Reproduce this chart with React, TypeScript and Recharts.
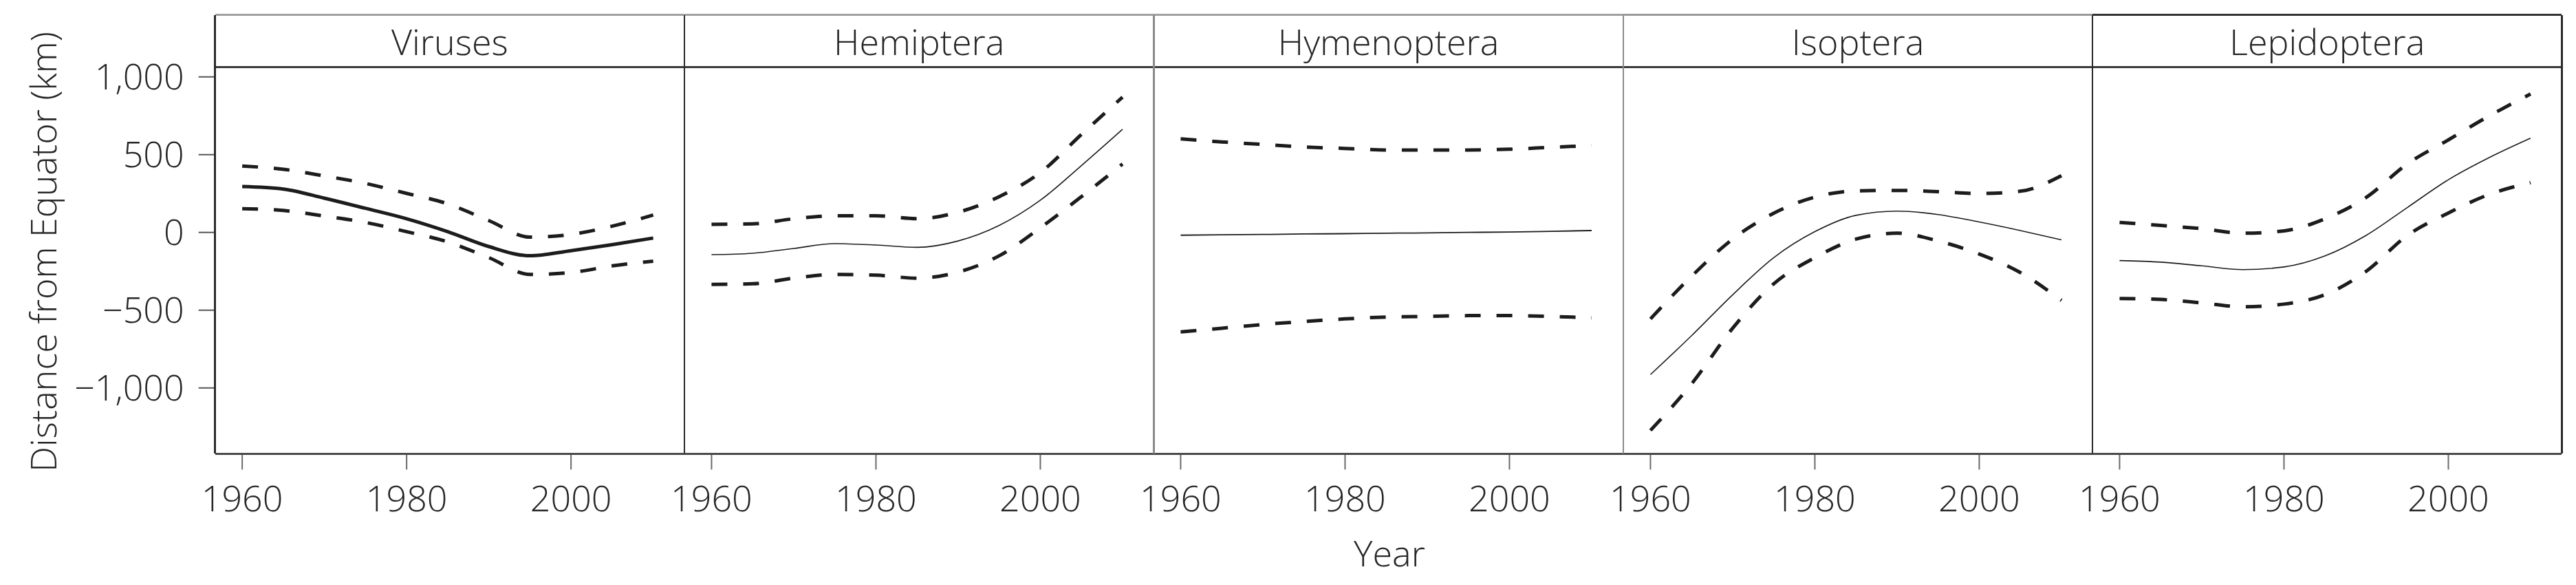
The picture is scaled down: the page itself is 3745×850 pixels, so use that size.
import { Line, LineChart, XAxis, YAxis } from 'recharts';

// Range-shift curves (fit + 95% band), one facet per taxon.
const YEARS = [1960, 1965, 1970, 1975, 1980, 1985, 1990, 1995, 2000, 2005, 2010];
const PANEL_NAMES = ['Viruses', 'Hemiptera', 'Hymenoptera', 'Isoptera', 'Lepidoptera'];

const VIRUSES_FIT = [295, 279, 220, 155, 88, 5, -91, -150, -117, -79, -36];
const VIRUSES_UPPER = [427, 406, 363, 315, 251, 184, 76, -30, -13, 40, 112];
const VIRUSES_LOWER = [153, 141, 105, 64, 5, -61, -162, -270, -258, -215, -185];

const HEMIPTERA_FIT = [-143, -134, -103, -72, -81, -96, -55, 45, 207, 430, 663];
const HEMIPTERA_UPPER = [52, 55, 88, 107, 107, 88, 130, 230, 385, 630, 870];
const HEMIPTERA_LOWER = [-334, -330, -294, -270, -275, -294, -255, -150, 30, 230, 440];

const HYMENOPTERA_FIT = [-18, -15, -13, -10, -8, -5, -3, 0, 3, 7, 12];
const HYMENOPTERA_UPPER = [602, 582, 566, 549, 540, 530, 530, 530, 535, 547, 559];
const HYMENOPTERA_LOWER = [-640, -616, -592, -573, -556, -544, -540, -535, -535, -540, -549];

const ISOPTERA_FIT = [-914, -664, -401, -162, 5, 110, 137, 115, 67, 12, -48];
const ISOPTERA_UPPER = [-556, -282, -43, 124, 227, 267, 270, 262, 250, 265, 365];
const ISOPTERA_LOWER = [-1273, -974, -616, -330, -162, -43, -5, -55, -139, -258, -437];

const LEPIDOPTERA_FIT = [-181, -191, -215, -239, -222, -151, -19, 160, 339, 482, 606];
const LEPIDOPTERA_UPPER = [64, 45, 24, -5, 10, 88, 225, 440, 595, 750, 890];
const LEPIDOPTERA_LOWER = [-425, -431, -453, -478, -461, -400, -250, -20, 125, 245, 320];

const X_TICKS = [1960, 1980, 2000];
const Y_TICKS = [-1000, -500, 0, 500, 1000];
const Y_TITLE = 'Distance from Equator (km)';
const X_TITLE = 'Year';

const SERIES = [
  [VIRUSES_FIT, VIRUSES_UPPER, VIRUSES_LOWER],
  [HEMIPTERA_FIT, HEMIPTERA_UPPER, HEMIPTERA_LOWER],
  [HYMENOPTERA_FIT, HYMENOPTERA_UPPER, HYMENOPTERA_LOWER],
  [ISOPTERA_FIT, ISOPTERA_UPPER, ISOPTERA_LOWER],
  [LEPIDOPTERA_FIT, LEPIDOPTERA_UPPER, LEPIDOPTERA_LOWER],
];

// layout (px, page coordinates)
const PLOT_LEFT = 312.7;
const PANEL_W = 682.36;
const FRAME_TOP = 21.7;
const STRIP_BOTTOM = 97.7;
const PLOT_BOTTOM = 659.3;
const AXIS_H = 120;
const PAD = 90; // room around each facet so edge tick labels are not clipped
const X_DOMAIN: [number, number] = [1956.7, 2013.8];
const Y_DOMAIN: [number, number] = [-1423, 1062];

const FONT = '"Open Sans", sans-serif';
const TEXT = '#262626';
const INK = '#1c1c1c';
const FIT_WIDTH = [5, 1.6, 1.8, 1.6, 1.6];
const TOP_COLORS = ['#a0a0a0', '#a0a0a0', '#a0a0a0', '#9a9a9a', '#333'];
const EDGE_COLORS = ['#2a2a2a', '#2a2a2a', '#8a8a8a', '#8a8a8a', '#2a2a2a', '#2a2a2a'];

const fmtY = (v: number) => (v < 0 ? '\u2212' : '') + Math.abs(v).toLocaleString('en-US');

// rotated y title, drawn in the first facet's svg (whose origin is the page origin)
const renderYTitle = () => (
  <text
    x={82}
    y={366}
    transform="rotate(-90 82 366)"
    textAnchor="middle"
    fill={TEXT}
    fontSize={52}
    fontFamily={FONT}
    fontWeight={300}
  >
    {Y_TITLE}
  </text>
);

function Panel({ idx }: { idx: number }) {
  const [fit, upper, lower] = SERIES[idx];
  const data = YEARS.map((year, i) => ({ year, fit: fit[i], upper: upper[i], lower: lower[i] }));
  const first = idx === 0;
  const leftRoom = first ? PLOT_LEFT : PAD;
  const left = PLOT_LEFT + idx * PANEL_W - leftRoom;
  const tickStyle = { fill: TEXT, fontSize: 52, fontFamily: FONT, fontWeight: 300 };

  return (
    <div style={{ position: 'absolute', left, top: 0 }}>
      <LineChart
        width={leftRoom + PANEL_W + PAD}
        height={PLOT_BOTTOM + AXIS_H}
        data={data}
        margin={{ top: STRIP_BOTTOM, right: PAD, bottom: 0, left: first ? 0 : PAD }}
      >
        <XAxis
          dataKey="year"
          type="number"
          domain={X_DOMAIN}
          ticks={X_TICKS}
          interval={0}
          allowDataOverflow
          height={AXIS_H}
          axisLine={false}
          tickSize={23}
          tickMargin={24}
          tickLine={{ stroke: '#6a6a6a', strokeWidth: 2 }}
          tick={tickStyle}
        />
        <YAxis
          type="number"
          domain={Y_DOMAIN}
          ticks={Y_TICKS}
          interval={0}
          allowDataOverflow
          hide={!first}
          width={first ? PLOT_LEFT : 0}
          axisLine={false}
          tickSize={24}
          tickMargin={21}
          tickLine={{ stroke: '#555', strokeWidth: 2 }}
          tick={tickStyle}
          tickFormatter={fmtY}
          label={first ? renderYTitle : undefined}
        />
        <Line dataKey="upper" type="monotone" stroke={INK} strokeWidth={5} strokeDasharray="23 23" dot={false} isAnimationActive={false} />
        <Line dataKey="lower" type="monotone" stroke={INK} strokeWidth={5} strokeDasharray="23 23" dot={false} isAnimationActive={false} />
        <Line dataKey="fit" type="monotone" stroke={INK} strokeWidth={FIT_WIDTH[idx]} dot={false} isAnimationActive={false} />
      </LineChart>
    </div>
  );
}

function hLine(key: string, x: number, y: number, w: number, color: string, t = 2.5) {
  return <div key={key} style={{ position: 'absolute', left: x, top: y - t / 2, width: w, height: t, background: color }} />;
}

function vLine(key: string, x: number, y0: number, y1: number, color: string, t = 2.5) {
  return <div key={key} style={{ position: 'absolute', left: x - t / 2, top: y0, width: t, height: y1 - y0, background: color }} />;
}

export default function App() {
  const frame: JSX.Element[] = [];
  PANEL_NAMES.forEach((_, i) => {
    const x = PLOT_LEFT + i * PANEL_W;
    frame.push(hLine(`t${i}`, x, FRAME_TOP, PANEL_W, TOP_COLORS[i], 3));
    frame.push(hLine(`s${i}`, x, STRIP_BOTTOM, PANEL_W, '#3a3a3a'));
    frame.push(hLine(`b${i}`, x, PLOT_BOTTOM, PANEL_W, '#4a4a4a'));
  });
  EDGE_COLORS.forEach((c, k) => frame.push(vLine(`v${k}`, PLOT_LEFT + k * PANEL_W, FRAME_TOP, PLOT_BOTTOM, c)));

  return (
    <div
      style={{
        position: 'absolute',
        left: 0,
        top: 0,
        width: 3745,
        height: 850,
        overflow: 'hidden',
        background: '#fff',
        fontFamily: FONT,
        color: TEXT,
      }}
    >
      {PANEL_NAMES.map((_, i) => (
        <Panel key={i} idx={i} />
      ))}

      {PANEL_NAMES.map((name, i) => (
        <div
          key={name}
          style={{
            position: 'absolute',
            left: PLOT_LEFT + i * PANEL_W,
            top: FRAME_TOP,
            width: PANEL_W,
            height: STRIP_BOTTOM - FRAME_TOP,
            display: 'flex',
            alignItems: 'center',
            justifyContent: 'center',
            fontSize: 52,
            fontWeight: 300,
            lineHeight: 1,
          }}
        >
          {name}
        </div>
      ))}

      {frame}

      <div
        style={{
          position: 'absolute',
          left: 2020 - 200,
          top: 777,
          width: 400,
          textAlign: 'center',
          fontSize: 52,
          fontWeight: 300,
          lineHeight: 1,
        }}
      >
        {X_TITLE}
      </div>
    </div>
  );
}
